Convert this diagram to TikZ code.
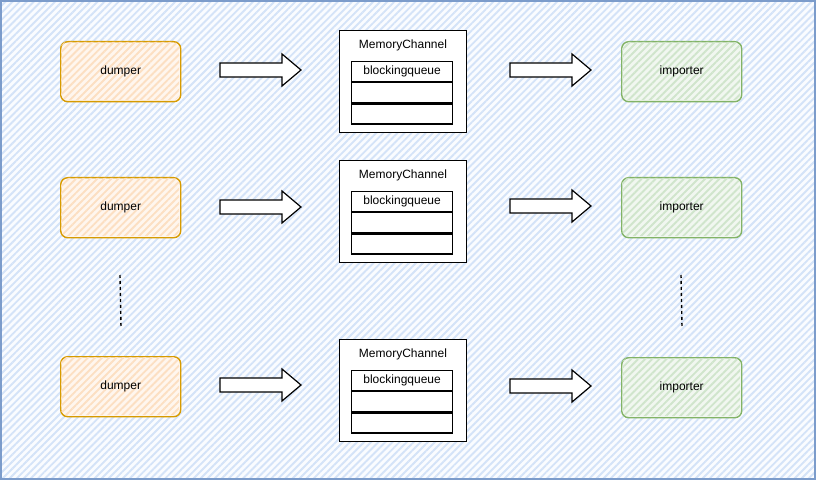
\documentclass[tikz,border=0pt]{standalone}
\usepackage{fontspec}
\setmainfont{Liberation Sans}
\usetikzlibrary{patterns.meta}
\definecolor{bgfill}{HTML}{FAFCFF}
\definecolor{bghatch}{HTML}{D4E3F8}
\definecolor{bgline}{HTML}{7C9CCB}
\definecolor{orfill}{HTML}{FFF6EE}
\definecolor{orhatch}{HTML}{FCDFC2}
\definecolor{orline}{HTML}{D79B00}
\definecolor{grfill}{HTML}{F1F7F0}
\definecolor{grhatch}{HTML}{D0E5CC}
\definecolor{grline}{HTML}{82B366}
\tikzset{
  x=1pt, y=-1pt,
  hatch/.style={pattern={Lines[angle=45, distance=5pt, line width=1.9pt]}, pattern color=#1},
  txt/.style={font=\fontsize{12}{14}\selectfont, text=black, inner sep=0pt},
  dumperbox/.style={draw=orline, line width=1.4pt, fill=orfill, rounded corners=7pt, minimum width=120pt, minimum height=60pt},
  importerbox/.style={draw=grline, line width=1.4pt, fill=grfill, rounded corners=7pt, minimum width=120pt, minimum height=60pt},
  chanbox/.style={draw=black, line width=1.3pt, fill=white, minimum width=127pt, minimum height=102pt},
  cell/.style={draw=black, line width=1.2pt, minimum width=101pt, minimum height=20pt, inner sep=0pt, font=\fontsize{12}{14}\selectfont},
  blockarrow/.style={draw=black, line width=1.2pt, fill=white},
  dots/.style={draw=black, line width=1.4pt, dash pattern=on 3pt off 3pt}
}
\newcommand{\rowchannel}[2]{%
  \node[chanbox, anchor=north west] (#1) at (339,#2) {};
  \node[txt] (#1t) at (403,#2+15) {MemoryChannel};
  \node[cell, anchor=north west] (#1a) at (351,#2+31) {blockingqueue};
  \node[cell, anchor=north] (#1b) at (#1a.south) {};
  \node[cell, anchor=north] (#1c) at (#1b.south) {};
}
\newcommand{\blockarr}[3]{%
  \path[blockarrow] (#2,#3-7) -- ++(62,0) -- ++(0,-9) -- ++(19,16) -- ++(-19,16) -- ++(0,-9) -- ++(-62,0) -- cycle;
  \coordinate (#1) at (#2,#3);
}
\newcommand{\sketchbox}[6]{%
  \node[#2, anchor=north west] (#1) at (#4,#5) {};
  \path[hatch=#3, rounded corners=6pt] (#4+1,#5+1) rectangle (#4+119,#5+59);
  \node[txt] at (#1) {#6};
}
\begin{document}
\begin{tikzpicture}
\useasboundingbox (0,0) rectangle (816,481);
\path[fill=bgfill] (1,1) rectangle (815,479);
\path[hatch=bghatch] (1,1) rectangle (815,479);
\draw[bgline, line width=1.2pt] (1,1) rectangle (815,479);

\sketchbox{d1}{dumperbox}{orhatch}{60}{41}{dumper}
\sketchbox{d2}{dumperbox}{orhatch}{60}{177}{dumper}
\sketchbox{d3}{dumperbox}{orhatch}{60}{356}{dumper}
\sketchbox{i1}{importerbox}{grhatch}{621}{41}{importer}
\sketchbox{i2}{importerbox}{grhatch}{621}{177}{importer}
\sketchbox{i3}{importerbox}{grhatch}{621}{357}{importer}

\rowchannel{c1}{30}
\rowchannel{c2}{160}
\rowchannel{c3}{339}

\blockarr{a1}{220}{70}
\blockarr{a2}{220}{207}
\blockarr{a3}{220}{385}
\blockarr{b1}{510}{70}
\blockarr{b2}{510}{206}
\blockarr{b3}{510}{386}

\coordinate (l1) at (120,275);
\coordinate (l2) at (121,327);
\coordinate (r1) at (681,275);
\coordinate (r2) at (682,327);
\draw[dots] (l1) -- (l2);
\draw[dots] (r1) -- (r2);
\end{tikzpicture}
\end{document}
